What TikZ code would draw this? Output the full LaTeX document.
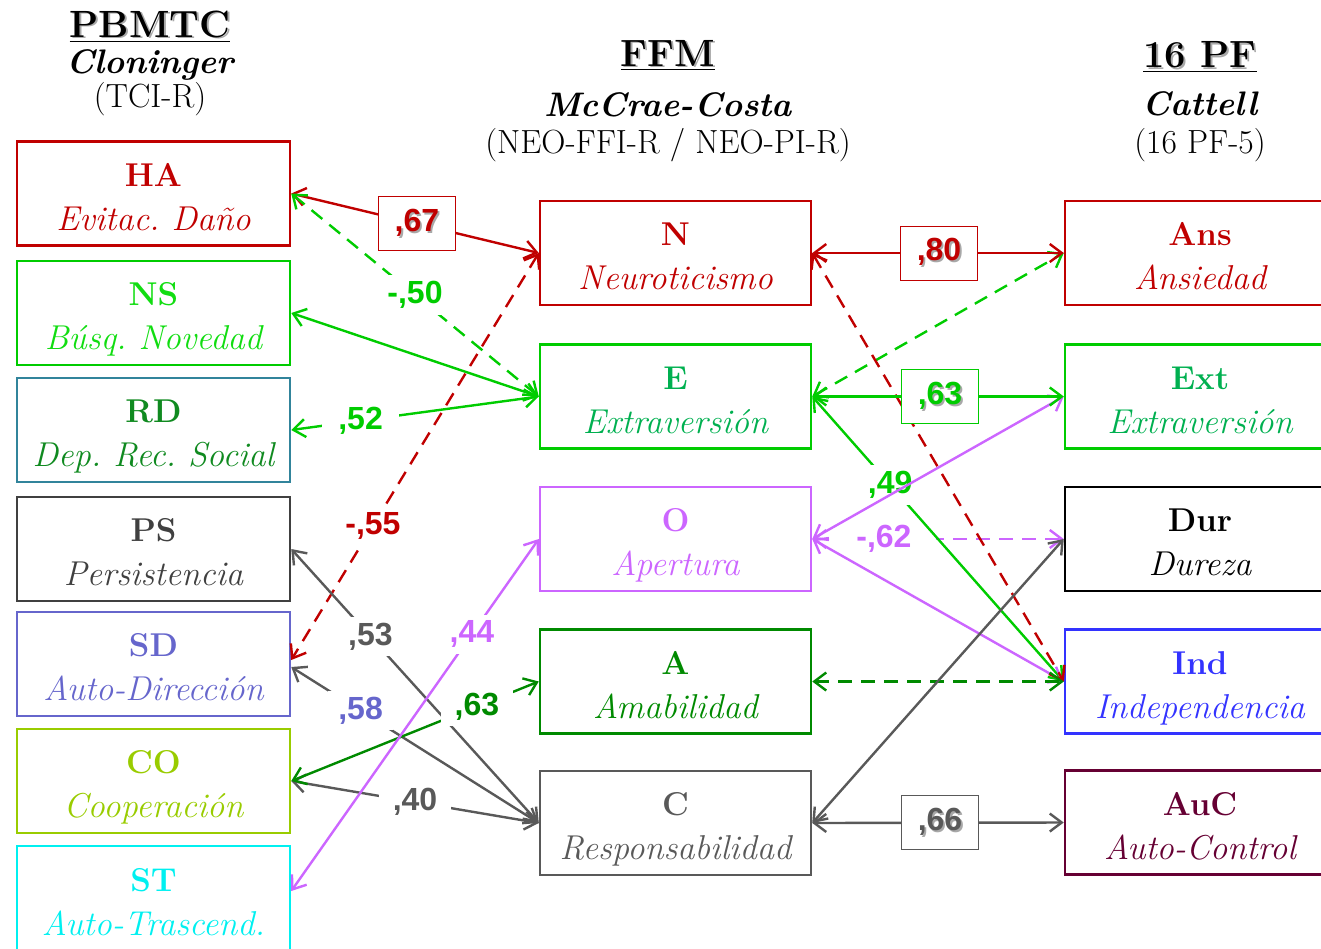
\documentclass[tikz,border=0pt]{standalone}
\usepackage{fontspec}
\newfontfamily\lsans{Liberation Sans}
\usetikzlibrary{arrows.meta,calc}
\frenchspacing
\definecolor{cRed}{HTML}{C00000}
\definecolor{cGreen}{HTML}{00CC00}
\definecolor{cNS}{HTML}{11DD11}
\definecolor{cEt}{HTML}{00B050}
\definecolor{cTeal}{HTML}{31849B}
\definecolor{cRDt}{HTML}{108A20}
\definecolor{cPS}{HTML}{404040}
\definecolor{cSD}{HTML}{6666CC}
\definecolor{cCO}{HTML}{99CC00}
\definecolor{cST}{HTML}{00F0F0}
\definecolor{cViolet}{HTML}{CC66FF}
\definecolor{cDkGreen}{HTML}{008A00}
\definecolor{cGray}{HTML}{595959}
\definecolor{cInd}{HTML}{3333FF}
\definecolor{cAuC}{HTML}{660033}
\definecolor{cShadow}{HTML}{A8A8A8}
\newcommand\bxt[2]{\rule{0pt}{38pt}{\fontsize{33}{44}\selectfont\bfseries #1}\\{\itshape #2\rule[-9pt]{0pt}{9pt}}}
\newcommand\shtxt[1]{\rlap{\kern1.8pt\raisebox{-1.8pt}{\textcolor{cShadow}{#1}}}#1}
\begin{document}
\begin{tikzpicture}[x=1pt,y=-1pt,
  box/.style={draw, line width=2.5pt, minimum width=273pt, minimum height=104pt,
    align=center, inner sep=0pt, font=\fontsize{34.5}{44}\selectfont},
  mbox/.style={box, minimum width=271pt},
  rbox/.style={box, minimum width=270pt},
  conn/.style={line width=2.4pt, {Straight Barb[length=12pt,width=18pt]}-{Straight Barb[length=12pt,width=18pt]}},
  dsh/.style={dash pattern=on 14pt off 9pt},
  lab/.style={fill=white, font=\lsans\bfseries\fontsize{32}{32}\selectfont, inner xsep=10pt, inner ysep=6pt},
  vbox/.style={draw, line width=1pt, fill=white, minimum width=77pt, minimum height=54pt,
    inner sep=0pt, font=\lsans\bfseries\fontsize{32}{32}\selectfont},
  hd/.style={font=\bfseries\fontsize{38}{38}\selectfont, inner sep=0pt},
  hs/.style={font=\bfseries\itshape\fontsize{34}{34}\selectfont, inner sep=0pt},
  hp/.style={font=\fontsize{33.5}{34}\selectfont, inner sep=0pt},
]
\useasboundingbox (0,0) rectangle (1321,948);
\clip (0,0) rectangle (1321,948);

% headers
\node[hd] (h1) at (150,26) {\underline{\shtxt{PBMTC}}};
\node[hs] (h1b) at (150,65) {Cloninger};
\node[hp] (h1c) at (150,99) {(TCI-R)};
\node[hd] (h2) at (668,55) {\underline{\shtxt{FFM}}};
\node[hs] (h2b) at (668,105) {McCrae-Costa};
\node[hp] (h2c) at (668,145) {(NEO-FFI-R / NEO-PI-R)};
\node[hd] (h3) at (1200,57) {\underline{\shtxt{16 PF}}};
\node[hs] (h3b) at (1200,104) {Cattell};
\node[hp] (h3c) at (1200,145) {(16 PF-5)};

% left column
\node[box, draw=cRed, text=cRed] (HA) at (153.5,193.5) {\bxt{HA}{Evitac. Daño}};
\node[box, draw=cGreen, text=cNS] (NS) at (153.5,313) {\bxt{NS}{Búsq. Novedad}};
\node[box, draw=cTeal, text=cRDt] (RD) at (153.5,430) {\bxt{RD}{Dep. Rec. Social}};
\node[box, draw=cPS, text=cPS] (PS) at (153.5,549) {\bxt{PS}{Persistencia}};
\node[box, draw=cSD, text=cSD] (SD) at (153.5,664) {\bxt{SD}{Auto-Dirección}};
\node[box, draw=cCO, text=cCO] (CO) at (153.5,781) {\bxt{CO}{Cooperación}};
\node[box, draw=cST, text=cST, minimum height=106pt] (ST) at (153.5,899) {\bxt{ST}{Auto-Trascend.}};

% middle column
\node[mbox, draw=cRed, text=cRed] (N) at (675.5,253) {\bxt{N}{Neuroticismo}};
\node[mbox, draw=cGreen, text=cEt] (E) at (675.5,396.5) {\bxt{E}{Extraversión}};
\node[mbox, draw=cViolet, text=cViolet] (O) at (675.5,539) {\bxt{O}{Apertura}};
\node[mbox, draw=cDkGreen, text=cDkGreen] (A) at (675.5,681.5) {\bxt{A}{Amabilidad}};
\node[mbox, draw=cGray, text=cGray] (C) at (675.5,823) {\bxt{C}{Responsabilidad}};

% right column
\node[rbox, draw=cRed, text=cRed] (Ans) at (1200,253) {\bxt{Ans}{Ansiedad}};
\node[rbox, draw=cGreen, text=cEt] (Ext) at (1200,396.5) {\bxt{Ext}{Extraversión}};
\node[rbox, draw=black, text=black] (Dur) at (1200,539) {\bxt{Dur}{Dureza}};
\node[rbox, draw=cInd, text=cInd] (Ind) at (1200,681.5) {\bxt{Ind}{Independencia}};
\node[rbox, draw=cAuC, text=cAuC] (AuC) at (1200,822.5) {\bxt{AuC}{Auto-Control}};

% left connectors
\draw[conn, cRed] (HA.east) -- node[vbox, draw=cRed, pos=0.508] {\shtxt{,67}} (N.west);
\draw[conn, cGreen, dsh] (HA.east) -- node[lab, pos=0.5] {-,50} (E.west);
\draw[conn, cGreen] (NS.east) -- (E.west);
\draw[conn, cGreen] (E.west) -- node[lab, pos=0.72, inner xsep=16pt] {,52} (RD.east);
\draw[conn, cRed, dsh] (N.west) -- node[lab, pos=0.67] {-,55} ([yshift=4pt]SD.east);
\draw[conn, cGray] (C.west) -- node[lab, pos=0.68] {,53} (PS.east);
\draw[conn, cGray] (C.west) -- node[lab, text=cSD, pos=0.72] {,58} ([yshift=-3pt]SD.east);
\draw[conn, cGray] (C.west) -- node[lab, pos=0.5, inner xsep=14pt] {,40} (CO.east);
\draw[conn, cDkGreen] (A.west) -- node[lab, pos=0.25, inner xsep=14pt] {,63} (CO.east);
\draw[conn, cViolet] (O.west) -- node[lab, pos=0.27] {,44} ([yshift=8pt]ST.east);

% right connectors
\draw[conn, cViolet, dsh] (O.east) -- node[lab, pos=0.285, minimum width=105pt] {-,62} (Dur.west);
\draw[conn, cGreen] (E.east) -- node[lab, pos=0.31] {,49} (Ind.west);
\draw[conn, cViolet] (O.east) -- (Ext.west);
\draw[conn, cViolet] (O.east) -- (Ind.west);
\draw[conn, cGreen, dsh] (E.east) -- (Ans.west);
\draw[conn, cRed, dsh] (N.east) -- (Ind.west);
\draw[conn, cRed] (N.east) -- node[vbox, draw=cRed, pos=0.504] {\shtxt{,80}} (Ans.west);
\draw[conn, cGreen] (E.east) -- node[vbox, draw=cGreen, pos=0.508] {\shtxt{,63}} (Ext.west);
\draw[conn, cDkGreen, dsh] (A.east) -- (Ind.west);
\draw[conn, cGray] (C.east) -- (Dur.west);
\draw[conn, cGray] (C.east) -- node[vbox, draw=cGray, pos=0.508] {\shtxt{,66}} (AuC.west);
\end{tikzpicture}
\end{document}
